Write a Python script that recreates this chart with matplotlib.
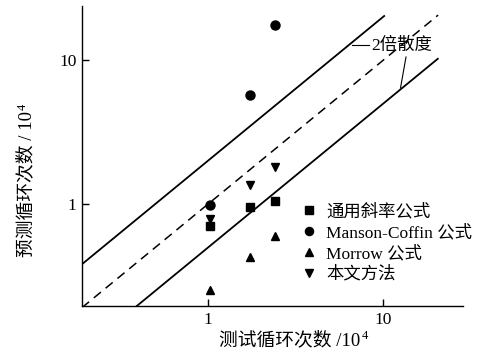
import numpy as np
import matplotlib
matplotlib.use("Agg")
import matplotlib.pyplot as plt
from matplotlib.ticker import NullLocator, FixedLocator, FixedFormatter

plt.rcParams['font.family'] = ['Liberation Serif', 'Noto Sans CJK SC']

# test life (x 10^4) and predicted life for each method
test_life = [1.03, 1.73, 2.42]
slope_pred = [0.71, 0.96, 1.06]
manson_pred = [0.99, 5.72, 17.5]
morrow_pred = [0.255, 0.434, 0.60]
this_pred = [0.79, 1.35, 1.82]

labels = ['通用斜率公式', 'Manson-Coffin 公式', 'Morrow 公式', '本文方法']
xlabel = '测试循环次数 /10'
ylabel = '预测循环次数 / 10'

W, H = 495, 357
fs = 12.5
fig = plt.figure(figsize=(W / 100, H / 100), dpi=100)
ax = fig.add_axes([82 / W, 1 - 306 / H, (463 - 82) / W, 300 / H])
ax.set_xscale('log')
ax.set_yscale('log')
ax.set_xlim(0.192, 28.4)
ax.set_ylim(0.197, 23.7)

# scatter bands: 1:1 line and factor-of-2 bounds
ax.plot([0.192, 20.5], [0.192, 20.5], 'k--', lw=1.1, dashes=(6, 4))
ax.plot([0.192, 10.1], [0.384, 20.2], 'k-', lw=1.3)
ax.plot([0.394, 20.4], [0.197, 10.2], 'k-', lw=1.3)

ms = 6
ax.plot(test_life, slope_pred, 's', color='k', ms=ms, label=labels[0])
ax.plot(test_life, manson_pred, 'o', color='k', ms=ms + 0.5, label=labels[1])
ax.plot(test_life, morrow_pred, '^', color='k', ms=ms, label=labels[2])
ax.plot(test_life, this_pred, 'v', color='k', ms=ms, label=labels[3])

# annotation for the 2x scatter lines
fig.text(371 / W, 1 - 46 / H, '2倍散度', fontsize=fs, va='center', ha='left')
ax.plot([352 / W, 369 / W], [1 - 45 / H, 1 - 45 / H], 'k-', lw=0.8,
        transform=fig.transFigure, clip_on=False)
ax.plot([406 / W, 400.5 / W], [1 - 57 / H, 1 - 88 / H], 'k-', lw=0.8,
        transform=fig.transFigure, clip_on=False)

ax.spines['top'].set_visible(False)
ax.spines['right'].set_visible(False)
for s in ('left', 'bottom'):
    ax.spines[s].set_linewidth(1.0)

ax.xaxis.set_major_locator(FixedLocator([1, 10]))
ax.xaxis.set_major_formatter(FixedFormatter(['1', '10']))
ax.yaxis.set_major_locator(FixedLocator([1, 10]))
ax.yaxis.set_major_formatter(FixedFormatter(['1', '10']))
ax.xaxis.set_minor_locator(NullLocator())
ax.yaxis.set_minor_locator(NullLocator())
ax.tick_params(direction='in', length=5, width=1, labelsize=fs, pad=4)

# axis labels with raised exponent
lfs = 13.5
xl = fig.text(219 / W, 1 - 345 / H, xlabel, fontsize=lfs, ha='left', va='baseline')
yl = fig.text(31 / W, 1 - 257 / H, ylabel, fontsize=lfs, rotation=90,
              rotation_mode='anchor', ha='left', va='baseline')
fig.canvas.draw()
r = fig.canvas.get_renderer()
bx = xl.get_window_extent(r)
by = yl.get_window_extent(r)
fig.text((bx.x1 + 1) / W, (bx.y1 + 1) / H, '4', fontsize=9, ha='left', va='top')
fig.text((by.x0 - 1) / W, (by.y1 + 1) / H, '4', fontsize=9, rotation=90,
         ha='left', va='bottom')

ax.legend(loc='upper left', bbox_to_anchor=(293 / W, 1 - 195 / H),
          bbox_transform=fig.transFigure, frameon=False, fontsize=fs,
          handlelength=0.8, handletextpad=0.6, labelspacing=0.24,
          borderpad=0, markerscale=0.9)

fig.savefig('out.png', dpi=100)
